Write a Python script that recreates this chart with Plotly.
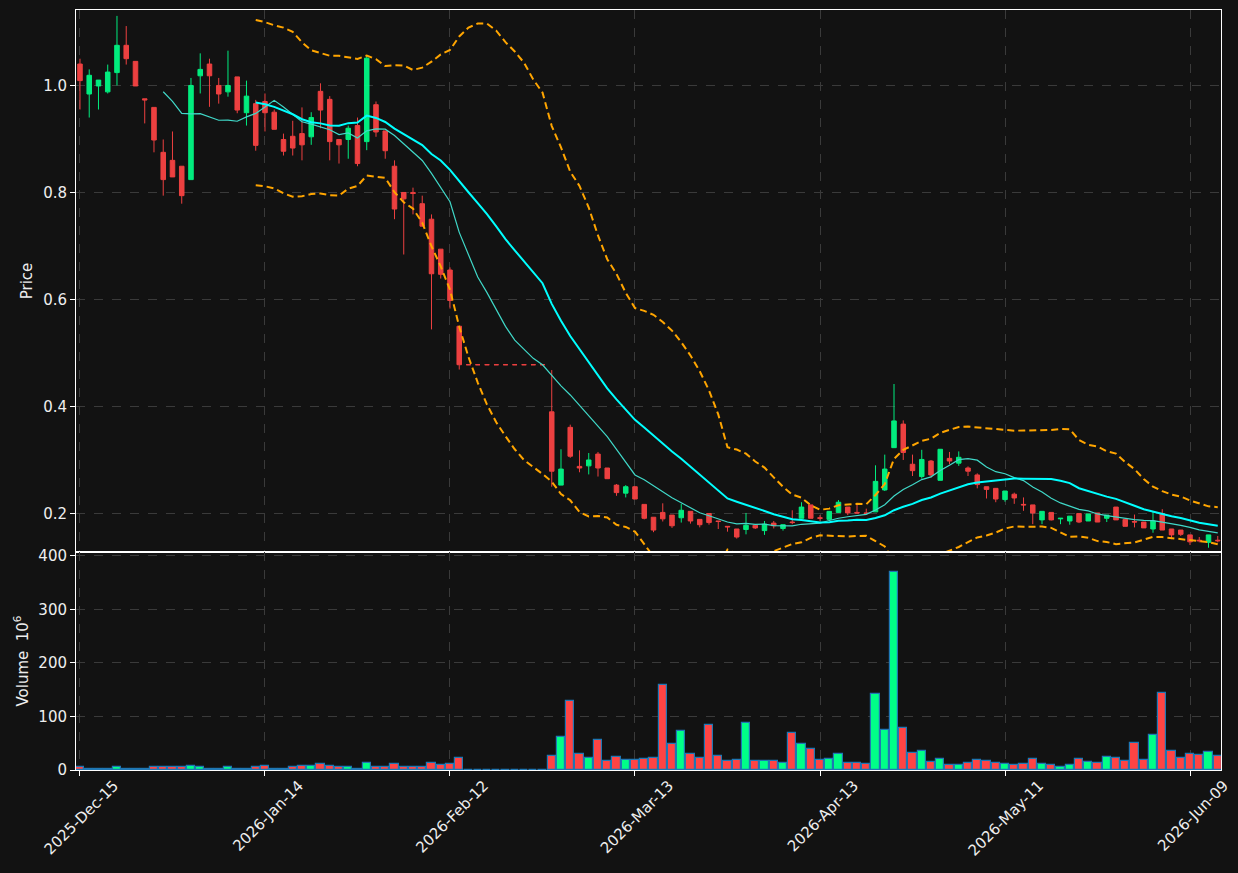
import pandas as pd
import plotly.graph_objects as go
from plotly.subplots import make_subplots

# ---- data ----
opens = [1.040, 0.984, 0.999, 0.988, 1.024, 1.075, 1.045, 0.975, 0.959, 0.875,
         0.860, 0.849, 0.824, 1.018, 1.040, 1.000, 0.988, 1.016, 0.949, 0.966,
         0.970, 0.950, 0.899, 0.905, 0.910, 0.904, 0.989, 0.974, 0.899, 0.899,
         0.925, 0.895, 0.964, 0.915, 0.849, 0.800, 0.800, 0.779, 0.750, 0.694,
         0.655, 0.550, 0.478, 0.478, 0.478, 0.478, 0.478, 0.478, 0.478, 0.478,
         0.478, 0.390, 0.253, 0.361, 0.288, 0.289, 0.311, 0.285, 0.253, 0.238,
         0.250, 0.217, 0.193, 0.202, 0.197, 0.192, 0.204, 0.189, 0.200, 0.186,
         0.176, 0.171, 0.170, 0.178, 0.168, 0.182, 0.172, 0.184, 0.191, 0.216,
         0.192, 0.189, 0.202, 0.212, 0.202, 0.201, 0.203, 0.244, 0.323, 0.367,
         0.292, 0.269, 0.298, 0.262, 0.303, 0.294, 0.285, 0.272, 0.250, 0.247,
         0.226, 0.236, 0.217, 0.216, 0.188, 0.202, 0.190, 0.186, 0.200, 0.186,
         0.201, 0.191, 0.212, 0.189, 0.185, 0.184, 0.171, 0.200, 0.171, 0.169,
         0.160, 0.150, 0.146, 0.150]
highs = [1.050, 1.030, 1.010, 1.039, 1.130, 1.111, 1.045, 0.975, 0.959, 0.899,
         0.914, 0.849, 1.014, 1.060, 1.050, 1.014, 1.065, 1.016, 1.009, 0.973,
         0.985, 0.955, 0.910, 0.934, 0.959, 0.950, 1.004, 0.980, 0.899, 0.925,
         0.940, 1.055, 0.970, 0.915, 0.860, 0.800, 0.809, 0.794, 0.759, 0.694,
         0.660, 0.550, 0.478, 0.478, 0.478, 0.478, 0.478, 0.478, 0.478, 0.478,
         0.478, 0.468, 0.320, 0.366, 0.318, 0.313, 0.315, 0.285, 0.255, 0.253,
         0.250, 0.217, 0.193, 0.219, 0.197, 0.218, 0.204, 0.189, 0.200, 0.186,
         0.176, 0.171, 0.201, 0.178, 0.186, 0.186, 0.179, 0.206, 0.221, 0.216,
         0.197, 0.204, 0.225, 0.212, 0.216, 0.209, 0.290, 0.310, 0.442, 0.374,
         0.310, 0.319, 0.300, 0.320, 0.315, 0.316, 0.288, 0.275, 0.250, 0.247,
         0.242, 0.239, 0.230, 0.216, 0.204, 0.202, 0.191, 0.195, 0.200, 0.199,
         0.201, 0.197, 0.212, 0.189, 0.198, 0.184, 0.203, 0.208, 0.171, 0.169,
         0.160, 0.156, 0.160, 0.158]
lows = [0.955, 0.940, 0.955, 0.985, 1.000, 1.039, 0.999, 0.929, 0.875, 0.794,
        0.829, 0.779, 0.824, 0.985, 0.960, 0.966, 0.979, 0.948, 0.925, 0.878,
        0.914, 0.918, 0.869, 0.869, 0.860, 0.889, 0.920, 0.860, 0.854, 0.863,
        0.849, 0.879, 0.904, 0.863, 0.750, 0.684, 0.759, 0.737, 0.544, 0.639,
        0.583, 0.469, 0.478, 0.478, 0.478, 0.478, 0.478, 0.478, 0.478, 0.478,
        0.478, 0.250, 0.253, 0.304, 0.277, 0.273, 0.269, 0.265, 0.233, 0.230,
        0.227, 0.189, 0.165, 0.185, 0.173, 0.183, 0.181, 0.174, 0.179, 0.171,
        0.166, 0.153, 0.161, 0.171, 0.160, 0.172, 0.168, 0.180, 0.191, 0.191,
        0.186, 0.189, 0.201, 0.197, 0.200, 0.200, 0.203, 0.242, 0.323, 0.300,
        0.270, 0.265, 0.267, 0.262, 0.292, 0.289, 0.270, 0.247, 0.228, 0.221,
        0.222, 0.218, 0.205, 0.180, 0.180, 0.187, 0.180, 0.179, 0.182, 0.186,
        0.184, 0.184, 0.188, 0.176, 0.174, 0.173, 0.164, 0.169, 0.152, 0.158,
        0.141, 0.146, 0.136, 0.146]
closes = [1.009, 1.019, 1.010, 1.025, 1.075, 1.050, 0.999, 0.973, 0.898, 0.824,
          0.829, 0.794, 1.000, 1.030, 1.018, 0.984, 1.000, 0.954, 0.980, 0.888,
          0.949, 0.918, 0.877, 0.883, 0.889, 0.940, 0.954, 0.895, 0.889, 0.920,
          0.854, 1.051, 0.913, 0.878, 0.769, 0.788, 0.798, 0.737, 0.648, 0.647,
          0.598, 0.478, 0.478, 0.478, 0.478, 0.478, 0.478, 0.478, 0.478, 0.478,
          0.478, 0.279, 0.283, 0.307, 0.285, 0.300, 0.285, 0.265, 0.239, 0.250,
          0.227, 0.191, 0.169, 0.190, 0.177, 0.206, 0.186, 0.179, 0.183, 0.185,
          0.175, 0.156, 0.178, 0.173, 0.180, 0.177, 0.179, 0.183, 0.212, 0.191,
          0.191, 0.204, 0.221, 0.201, 0.201, 0.200, 0.260, 0.283, 0.373, 0.314,
          0.280, 0.301, 0.272, 0.320, 0.298, 0.305, 0.279, 0.254, 0.245, 0.227,
          0.242, 0.229, 0.216, 0.201, 0.204, 0.188, 0.191, 0.195, 0.184, 0.199,
          0.184, 0.197, 0.188, 0.176, 0.184, 0.173, 0.186, 0.169, 0.160, 0.161,
          0.147, 0.149, 0.160, 0.149]
volumes = [5, 2.5, 2.5, 2.5, 5, 2.5, 2.5, 1.2, 5, 5,
           5, 5, 7.5, 5, 2.5, 2.5, 5, 2.5, 2.5, 5,
           7.5, 2.5, 2.5, 5, 7.5, 7.5, 11, 7.5, 5, 5,
           2.5, 14, 5, 5, 11, 5, 5, 5, 14, 9,
           11, 22, 0, 0, 0, 0, 0, 0, 0, 0,
           0, 25.6, 61, 129, 29, 22, 56, 17, 24, 18,
           18, 21, 22, 159, 48, 72.5, 29, 22, 84, 26,
           17, 18, 87.5, 17, 17, 17, 12.5, 69, 48, 39,
           18, 20, 29, 14, 14, 10.6, 142, 74.6, 370, 78,
           31, 35, 14.4, 21, 10, 10, 12.5, 18, 16, 12.5,
           10.7, 8.8, 10.7, 20, 10.7, 8.8, 6.3, 8.8, 20, 14.4,
           12.5, 24, 22, 16, 50, 18, 65, 144, 35, 22,
           29.5, 27.6, 33, 25.7]
tick_idx = [0, 20, 40, 60, 80, 100, 120]
tick_labels = ["2025-Dec-15", "2026-Jan-14", "2026-Feb-12", "2026-Mar-13",
               "2026-Apr-13", "2026-May-11", "2026-Jun-09"]

# ---- styles ----
BG = "#121212"
UP = "#00ff88"
DOWN = "#ff4444"
GRID = "#3a3a3a"
TXT = "#eeeeee"
FONT = "DejaVu Sans"
FS = 15

x = list(range(len(closes)))
cs = pd.Series(closes)
ma10 = cs.rolling(10).mean()
ma20 = cs.rolling(20).mean()
sd20 = cs.rolling(20).std(ddof=0)
upper = ma20 + 2 * sd20
lower = ma20 - 2 * sd20
vol_colors = [UP if c > o else DOWN for o, c in zip(opens, closes)]

fig = make_subplots(rows=2, cols=1, shared_xaxes=True, vertical_spacing=0,
                    row_heights=[542 / 760, 218 / 760])

fig.add_trace(go.Candlestick(
    x=x, open=opens, high=highs, low=lows, close=closes,
    increasing=dict(line=dict(color=UP, width=1), fillcolor=UP),
    decreasing=dict(line=dict(color=DOWN, width=1), fillcolor=DOWN),
    whiskerwidth=0, opacity=0.92, showlegend=False), row=1, col=1)

fig.add_trace(go.Scatter(x=x, y=ma10, mode="lines",
                         line=dict(color="#40d8c8", width=1.2), showlegend=False), row=1, col=1)
fig.add_trace(go.Scatter(x=x, y=ma20, mode="lines",
                         line=dict(color="#00ffff", width=2), showlegend=False), row=1, col=1)
fig.add_trace(go.Scatter(x=x, y=upper, mode="lines",
                         line=dict(color="#ffa500", width=2, dash="7px,4px"), showlegend=False), row=1, col=1)
fig.add_trace(go.Scatter(x=x, y=lower, mode="lines",
                         line=dict(color="#ffa500", width=2, dash="7px,4px"), showlegend=False), row=1, col=1)

fig.add_trace(go.Bar(x=x, y=volumes, marker=dict(color=vol_colors,
                     line=dict(color="#1f77b4", width=1.2)), width=0.88,
                     showlegend=False), row=2, col=1)

xr = [-0.43, 123.35]
axis_common = dict(showline=True, linecolor="white", linewidth=1, mirror=True,
                   showgrid=True, gridcolor=GRID, griddash="dash", gridwidth=1,
                   zeroline=False, ticks="outside", tickcolor="white", ticklen=5,
                   tickfont=dict(family=FONT, size=FS, color=TXT))

fig.update_xaxes(**axis_common, range=xr, tickvals=tick_idx, ticktext=tick_labels)
fig.update_xaxes(showticklabels=False, rangeslider_visible=False, row=1, col=1)
fig.update_xaxes(tickangle=-45, ticklabelshift=34, ticklabelstandoff=-5,
                 ticklabeloverflow="allow", row=2, col=1)

fig.update_yaxes(**axis_common)
fig.update_yaxes(range=[0.128, 1.141], tickvals=[0.2, 0.4, 0.6, 0.8, 1.0],
                 ticktext=["0.2", "0.4", "0.6", "0.8", "1.0"],
                 title=dict(text="Price", font=dict(family=FONT, size=FS, color=TXT), standoff=6),
                 row=1, col=1)
fig.update_yaxes(range=[0, 407], tickvals=[0, 100, 200, 300, 400],
                 title=dict(text="Volume  10<sup>6</sup>", font=dict(family=FONT, size=FS, color=TXT), standoff=6),
                 row=2, col=1)

fig.update_layout(width=1238, height=873, paper_bgcolor=BG, plot_bgcolor=BG,
                  margin=dict(l=76, r=17, t=10, b=103, autoexpand=False),
                  font=dict(family=FONT, color=TXT), bargap=0, showlegend=False)

fig.write_html("out.html")
